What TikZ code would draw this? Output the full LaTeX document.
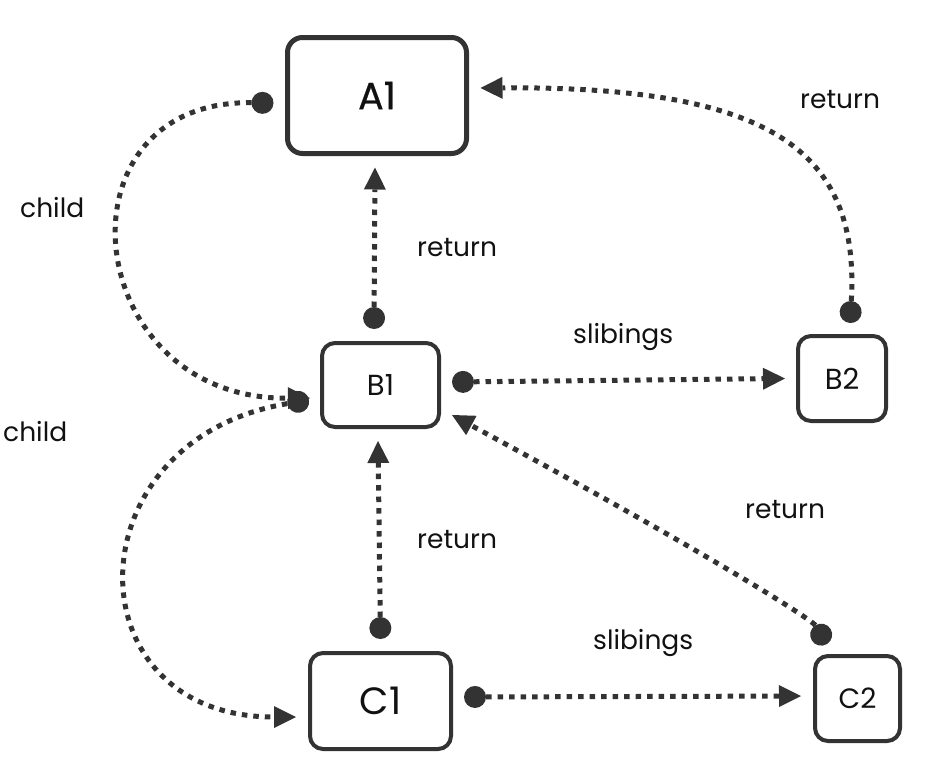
\documentclass[tikz,border=0pt]{standalone}
\usepackage{fontspec}
\setmainfont{Poppins}
\newfontfamily\heavyfont[FakeBold=0.6]{Poppins}
\usetikzlibrary{arrows.meta}
\definecolor{ink}{HTML}{333333}
\definecolor{txt}{HTML}{111111}
\tikzset{
  box/.style={draw=ink, fill=white, rounded corners=13pt, line width=4pt, inner sep=0pt, text=txt},
  bigbox/.style={box, line width=5pt, rounded corners=15pt},
  conn/.style={draw=ink, line width=5pt, dash pattern=on 5.5pt off 6pt,
    {Circle[length=22pt,line width=0pt]}-{Triangle[length=22pt,width=22pt,line width=0pt]}},
  lbl/.style={anchor=base west, inner sep=0pt, text=txt, font=\fontsize{26.5}{30}\selectfont},
}
\begin{document}
\begin{tikzpicture}[x=1pt,y=-1pt]
\useasboundingbox (0,0) rectangle (928,782);
% nodes
\node[bigbox, minimum width=179pt, minimum height=116pt, font=\heavyfont\fontsize{38}{42}\selectfont] (A1) at (377,95.5) {A1};
\node[box, minimum width=117pt, minimum height=84pt, font=\fontsize{29}{33}\selectfont] (B1) at (380.5,385) {B1};
\node[box, minimum width=88pt, minimum height=85pt, font=\fontsize{29}{33}\selectfont] (B2) at (842,378.5) {B2};
\node[box, minimum width=141pt, minimum height=96pt, font=\fontsize{38}{42}\selectfont] (C1) at (380.5,701) {C1};
\node[box, minimum width=85pt, minimum height=85pt, font=\fontsize{28}{32}\selectfont] (C2) at (857.5,698.5) {C2};
% labels
\node[lbl] (l1) at (800,108) {return};
\node[lbl] (l2) at (20,217) {child};
\node[lbl] (l3) at (417,256) {return};
\node[lbl] (l4) at (573,343) {slibings};
\node[lbl] (l5) at (3,441) {child};
\node[lbl] (l6) at (745,518) {return};
\node[lbl] (l7) at (417,548) {return};
\node[lbl] (l8) at (593,649) {slibings};
% connectors
\draw[conn] ([shift={(-6.5,-12)}]B1.north) -- ([shift={(-2,11.5)}]A1.south);
\draw[conn] ([shift={(11,-3)}]B1.east) -- ([shift={(-11,0)}]B2.west);
\draw[conn] ([shift={(8,-11)}]B2.north) .. controls (860,150) and (770,86) .. ([shift={(11.5,-7.5)}]A1.east);
\draw[conn] ([shift={(-11.5,7.5)}]A1.west) .. controls (50,100) and (80,400) .. ([shift={(-10,13)}]B1.west);
\draw[conn] ([shift={(-11,15)}]B1.west) .. controls (70,440) and (70,717) .. ([shift={(-12,16)}]C1.west);
\draw[conn] ([shift={(0,-12)}]C1.north) -- ([shift={(-2.5,12)}]B1.south);
\draw[conn] ([shift={(11,-4)}]C1.east) -- ([shift={(-12,-2.5)}]C2.west);
\draw[conn] ([shift={(-30.5,-10)}]C2.north) .. controls (812,620) and (720,560) .. ([shift={(11,-14)}]B1.south east);
\end{tikzpicture}
\end{document}
